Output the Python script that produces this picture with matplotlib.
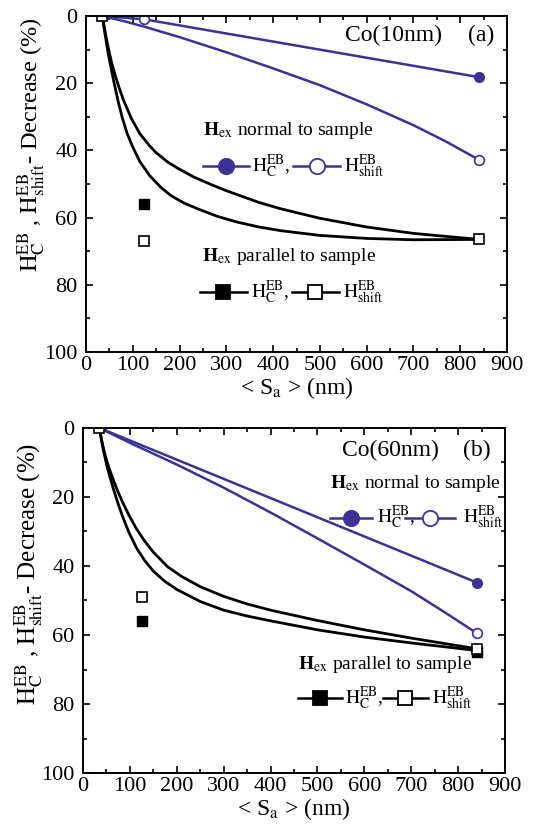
import matplotlib
matplotlib.use("Agg")
import matplotlib.pyplot as plt
from matplotlib.ticker import MultipleLocator

plt.rcParams["font.family"] = ["Liberation Serif", "DejaVu Serif"]
plt.rcParams["mathtext.fontset"] = "stix"

BLUE = "#3b3196"

# ---- panel (a): Co(10nm) ----
a_hc_x = [35, 125, 840]
a_hc_y = [0, 1, 18.2]
a_sh_x = [35, 80, 125, 200, 300, 400, 500, 600, 700, 770, 840]
a_sh_y = [0, 1.5, 3.2, 6.3, 10.8, 15.6, 20.6, 26.3, 32.5, 37.4, 42.8]
a_sh_mx = [125, 840]
a_sh_my = [1, 42.8]
# black curves (parallel field)
a_par1_x = [35, 38, 42, 46, 50, 55, 61, 68, 77, 88, 100, 115, 136, 160, 182, 210, 239, 280,
            325, 370, 417, 500, 600, 700, 840]
a_par1_y = [0, 3, 6.5, 10, 13, 16.5, 20.5, 25, 30, 35, 39, 43.3, 47.5, 51, 53.5, 55.7, 57.4, 59.6,
            61.4, 62.8, 63.9, 65.3, 66.2, 66.6, 66.5]
a_par2_x = [35, 38, 42, 46, 50, 55, 62, 70, 80, 97, 115, 135, 150, 175, 196, 230, 268, 300,
            332, 370, 417, 500, 600, 700, 840]
a_par2_y = [0, 2.5, 5.5, 8.5, 11, 14, 17.5, 21, 25, 30.5, 35, 38.5, 40.7, 43.5, 45.3, 47.9, 50.2, 52,
            53.6, 55.5, 57.4, 60.2, 62.8, 64.7, 66.5]
a_sq_fill = ([125], [56])
a_sq_open = ([35, 125, 840], [0, 67, 66.5])

# ---- panel (b): Co(60nm) ----
b_hc_x = [35, 840]
b_hc_y = [0, 44.8]
b_sh_x = [35, 100, 200, 300, 400, 500, 600, 700, 770, 840]
b_sh_y = [0, 4.3, 10.6, 17.3, 24.5, 32, 39.6, 47.3, 53.3, 59.5]
b_par1_x = [35, 38, 42, 46, 51, 57, 64, 74, 85, 98, 115, 132, 150, 175, 200, 250, 300, 350,
            400, 500, 600, 700, 840]
b_par1_y = [0, 2.5, 5.5, 8, 11, 14, 17.3, 21.6, 25.9, 30.3, 35, 38.5, 41.5, 44.5, 46.8, 50.3, 52.8, 54.5,
            55.9, 58.5, 60.6, 62.3, 64.5]
b_par2_x = [35, 38, 42, 46, 51, 57, 64, 74, 85, 98, 113, 130, 150, 181, 210, 250, 300, 350,
            400, 500, 600, 700, 840]
b_par2_y = [0, 2.3, 5, 7.3, 9.7, 12.2, 14.8, 18.3, 21.7, 25.3, 29, 32.5, 36, 40.3, 43, 46, 48.8, 51,
            52.8, 55.8, 58.5, 60.9, 64]
b_sq_fill = ([125, 840], [56, 64.8])
b_sq_open = ([35, 125, 840], [0, 49, 64])

xticks = [0, 100, 200, 300, 400, 500, 600, 700, 800, 900]
yticks = [0, 20, 40, 60, 80, 100]

fig = plt.figure(figsize=(5.52, 8.32), dpi=100)
ax1 = fig.add_axes([0.1558, 0.5769, 0.7627, 0.4039])
ax2 = fig.add_axes([0.1504, 0.0709, 0.7645, 0.4147])


def setup(ax, label_y, label_size):
    ax.set_xlim(0, 900)
    ax.set_ylim(100, 0)
    ax.set_xticks(xticks)
    ax.set_yticks(yticks)
    ax.xaxis.set_minor_locator(MultipleLocator(50))
    ax.yaxis.set_minor_locator(MultipleLocator(10))
    ax.tick_params(which="both", direction="in", top=True, right=True, width=1.2)
    ax.tick_params(which="major", length=5, labelsize=16)
    ax.tick_params(axis="y", which="major", pad=6)
    ax.tick_params(axis="x", which="major", pad=3)
    ax.tick_params(which="minor", length=3)
    for s in ax.spines.values():
        s.set_linewidth(1.4)
    ax.set_xlabel(r"< S$_\mathrm{a}$ > (nm)", fontsize=17, labelpad=0)
    ax.set_ylabel(r"$\mathrm{H}_\mathrm{C}^\mathrm{EB}$ , $\mathrm{H}_\mathrm{shift}^\mathrm{EB}$- Decrease (%)",
                  fontsize=label_size)
    ax.yaxis.set_label_coords(-0.09, label_y)


def legend_row(ax, y, items, color, marker, ms):
    # items: (x_line_start, x_line_end, x_text, fill, label)
    for x0, x1, xt, fill, lab in items:
        ax.plot([x0, x1], [y, y], color=color, lw=1.8, transform=ax.transAxes, clip_on=False)
        ax.plot([(x0 + x1) / 2], [y], marker=marker, ms=ms, color=color,
                mfc=color if fill else "white", mew=1.3, transform=ax.transAxes, clip_on=False)
        ax.text(xt, y, lab, fontsize=14, va="center", ha="left", transform=ax.transAxes)


hc_lab = r"$\mathrm{H}_\mathrm{C}^\mathrm{EB}$,"
sh_lab = r"$\mathrm{H}_\mathrm{shift}^\mathrm{EB}$"

# panel (a)
setup(ax1, 0.616, 17.5)
ax1.plot(a_par1_x, a_par1_y, color="black", lw=2)
ax1.plot(a_par2_x, a_par2_y, color="black", lw=2)
ax1.plot(a_hc_x, a_hc_y, color=BLUE, lw=1.8)
ax1.plot(a_sh_x, a_sh_y, color=BLUE, lw=1.8)
ax1.plot(a_hc_x[-1:], a_hc_y[-1:], "o", color=BLUE, ms=7)
ax1.plot(a_sh_mx, a_sh_my, "o", color=BLUE, mfc="white", ms=7, mew=1.2)
ax1.plot(*a_sq_fill, "s", color="black", ms=7)
ax1.plot(*a_sq_open, "s", color="black", mfc="white", ms=7, mew=1.2)
ax1.text(0.616, 0.943, "Co(10nm)", fontsize=17, transform=ax1.transAxes, va="center")
ax1.text(0.907, 0.943, "(a)", fontsize=17, transform=ax1.transAxes, va="center")
ax1.text(0.278, 0.66, r"$\mathbf{H}_\mathrm{ex}$ normal to sample", fontsize=14,
         transform=ax1.transAxes, va="center")
legend_row(ax1, 0.554, [(0.278, 0.387, 0.394, True, hc_lab),
                        (0.492, 0.603, 0.613, False, sh_lab)], BLUE, "o", 11)
ax1.text(0.275, 0.285, r"$\mathbf{H}_\mathrm{ex}$ parallel to sample", fontsize=14,
         transform=ax1.transAxes, va="center")
legend_row(ax1, 0.179, [(0.271, 0.382, 0.392, True, hc_lab),
                        (0.489, 0.601, 0.610, False, sh_lab)], "black", "s", 10)

# panel (b)
setup(ax2, 0.577, 18)
ax2.plot(b_par1_x, b_par1_y, color="black", lw=2)
ax2.plot(b_par2_x, b_par2_y, color="black", lw=2)
ax2.plot(b_hc_x, b_hc_y, color=BLUE, lw=1.8)
ax2.plot(b_sh_x, b_sh_y, color=BLUE, lw=1.8)
ax2.plot(b_hc_x[-1:], b_hc_y[-1:], "o", color=BLUE, ms=7)
ax2.plot(b_sh_x[-1:], b_sh_y[-1:], "o", color=BLUE, mfc="white", ms=7, mew=1.2)
ax2.plot(*b_sq_fill, "s", color="black", ms=7)
ax2.plot(*b_sq_open, "s", color="black", mfc="white", ms=7, mew=1.2)
ax2.text(0.614, 0.936, "Co(60nm)", fontsize=17, transform=ax2.transAxes, va="center")
ax2.text(0.900, 0.936, "(b)", fontsize=17, transform=ax2.transAxes, va="center")
ax2.text(0.585, 0.84, r"$\mathbf{H}_\mathrm{ex}$ normal to sample", fontsize=14,
         transform=ax2.transAxes, va="center")
legend_row(ax2, 0.74, [(0.585, 0.685, 0.697, True, hc_lab),
                       (0.763, 0.882, 0.900, False, sh_lab)], BLUE, "o", 11)
ax2.text(0.509, 0.315, r"$\mathbf{H}_\mathrm{ex}$ parallel to sample", fontsize=14,
         transform=ax2.transAxes, va="center")
legend_row(ax2, 0.217, [(0.509, 0.614, 0.621, True, hc_lab),
                        (0.711, 0.817, 0.827, False, sh_lab)], "black", "s", 10)

fig.savefig("out.png", dpi=100)
